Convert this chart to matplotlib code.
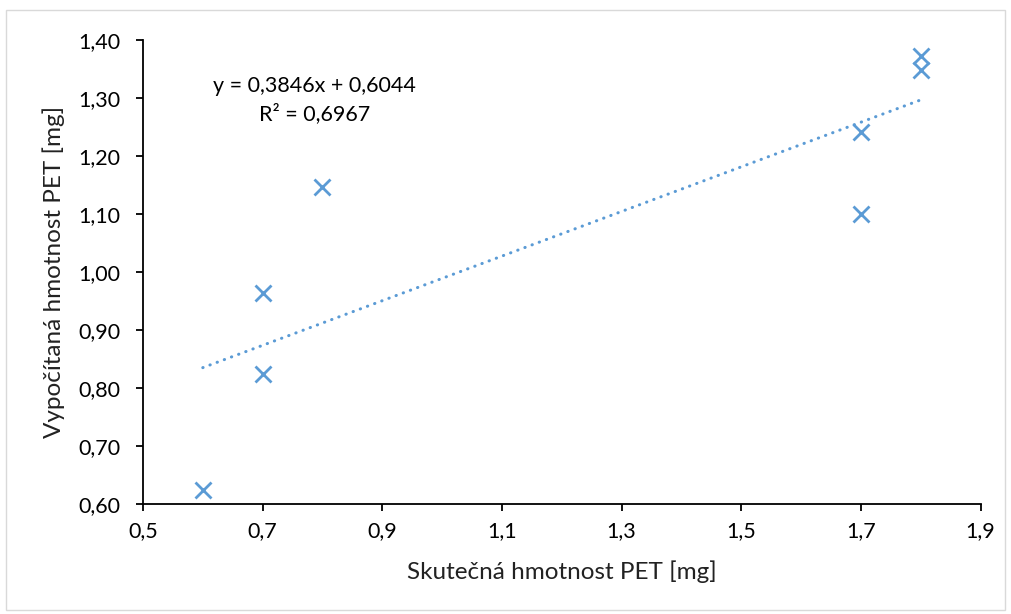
import numpy as np
import matplotlib.pyplot as plt
from matplotlib.patches import Rectangle

plt.rcParams['font.family'] = ['Lato', 'DejaVu Sans']

# Skutečná vs. vypočítaná hmotnost PET
skutecna = [0.6, 0.7, 0.7, 0.8, 1.7, 1.7, 1.8, 1.8]
vypocitana = [0.624, 0.964, 0.824, 1.147, 1.241, 1.100, 1.372, 1.348]
smernice = 0.3846
posun = 0.6044
x_ticks = [0.5, 0.7, 0.9, 1.1, 1.3, 1.5, 1.7, 1.9]
y_ticks = [0.6, 0.7, 0.8, 0.9, 1.0, 1.1, 1.2, 1.3, 1.4]

barva = '#5B9BD5'

fig = plt.figure(figsize=(10.11, 6.14), dpi=100)
ax = fig.add_axes([0.1414, 0.179, 0.8286, 0.756])

# okraj grafu
fig.patches.append(Rectangle((0.006, 0.006), 0.988, 0.978, transform=fig.transFigure,
                             fill=False, edgecolor='#d9d9d9', linewidth=1))

ax.plot(skutecna, vypocitana, linestyle='none', marker='x', color=barva,
        markersize=11, markeredgewidth=2)

# lineární trend
tx = np.array([min(skutecna), max(skutecna)])
ax.plot(tx, smernice * tx + posun, color=barva, linewidth=2.2,
        linestyle=(0, (0.1, 2.4)), dash_capstyle='round')

ax.text(0.787, 1.321, 'y = 0,3846x + 0,6044', ha='center', va='center', fontsize=15.5)
ax.text(0.787, 1.273, 'R² = 0,6967', ha='center', va='center', fontsize=15.5)

ax.set_xlim(0.5, 1.9)
ax.set_ylim(0.6, 1.4)
ax.set_xticks(x_ticks)
ax.set_xticklabels([f'{v:.1f}'.replace('.', ',') for v in x_ticks])
ax.set_yticks(y_ticks)
ax.set_yticklabels([f'{v:.2f}'.replace('.', ',') for v in y_ticks])
ax.tick_params(labelsize=15.5, length=5, width=1.3, color='black')
ax.tick_params(axis='y', pad=11)
ax.tick_params(axis='x', pad=7)

for s in ['top', 'right']:
    ax.spines[s].set_visible(False)
for s in ['left', 'bottom']:
    ax.spines[s].set_linewidth(1.3)
    ax.spines[s].set_color('black')

ax.set_xlabel('Skutečná hmotnost PET [mg]', fontsize=17.5, color='#222222', labelpad=14)
ax.set_ylabel('Vypočítaná hmotnost PET [mg]', fontsize=17.5, color='#222222', labelpad=10)

fig.savefig('out.png', dpi=100)
